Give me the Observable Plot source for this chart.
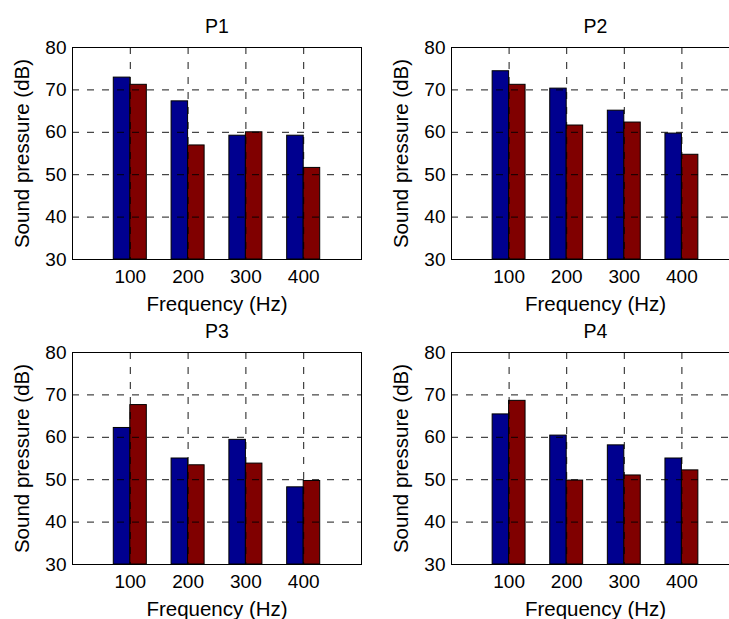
<!DOCTYPE html>
<html>
<head>
<meta charset="utf-8">
<script src="https://cdn.jsdelivr.net/npm/d3@7"></script>
<script src="https://cdn.jsdelivr.net/npm/@observablehq/plot@0.6"></script>
<style>
  html, body { margin: 0; padding: 0; background: #fff; }
  #wrap { position: relative; width: 729px; height: 619px; overflow: hidden; background: #fff; }
  .panel { position: absolute; }
</style>
</head>
<body>
<div id="wrap"></div>
<script>
// ---- data ----
const frequencies = [100, 200, 300, 400];
const xTicks = [100, 200, 300, 400];
const yTicks = [30, 40, 50, 60, 70, 80];
const gridYValues = [40, 50, 60, 70];
const panelTitles = ["P1", "P2", "P3", "P4"];

const p1Series1 = [72.9, 67.3, 59.2, 59.2];
const p1Series2 = [71.2, 56.9, 60.0, 51.6];
const p2Series1 = [74.4, 70.3, 65.1, 59.7];
const p2Series2 = [71.2, 61.6, 62.3, 54.7];
const p3Series1 = [62.2, 55.0, 59.4, 48.2];
const p3Series2 = [67.6, 53.4, 53.8, 49.7];
const p4Series1 = [65.4, 60.4, 58.1, 55.0];
const p4Series2 = [68.6, 49.8, 51.0, 52.2];

const xLabel = "Frequency (Hz)";
const yLabel = "Sound pressure (dB)";

// MATLAB grouped bar: group width 2/3.5 of spacing, two bars
const barW = 100 * (2 / 3.5) / 2;
const baseline = 30;

const FONT = "'Liberation Sans', Arial, Helvetica, sans-serif";
const BLUE = "#00008f";
const RED = "#800000";

function panel(title, s1, s2, left, top, width, marginLeft) {
  const d1 = frequencies.map((f, i) => ({f, v: s1[i]}));
  const d2 = frequencies.map((f, i) => ({f, v: s2[i]}));
  const chart = Plot.plot({
    width: width,
    height: 310,
    marginLeft: marginLeft,
    marginRight: 3,
    marginTop: 47,
    marginBottom: 51,
    style: {fontFamily: FONT, fontSize: "19px", color: "#000", background: "transparent", overflow: "visible"},
    x: {domain: [0, 500]},
    y: {domain: [30, 80]},
    marks: [
      Plot.rectY(d1, {x1: d => d.f - barW, x2: d => d.f, y1: baseline, y2: d => d.v, fill: BLUE, stroke: "#000", strokeWidth: 1}),
      Plot.rectY(d2, {x1: d => d.f, x2: d => d.f + barW, y1: baseline, y2: d => d.v, fill: RED, stroke: "#000", strokeWidth: 1}),
      Plot.gridX(xTicks, {stroke: "#000", strokeOpacity: 0.9, strokeWidth: 1, strokeDasharray: "7,8"}),
      Plot.gridY(gridYValues, {stroke: "#000", strokeOpacity: 0.9, strokeWidth: 1, strokeDasharray: "7,8"}),
      Plot.frame({stroke: "#000", strokeWidth: 1}),
      Plot.axisX({ticks: xTicks, tickSize: 0, tickPadding: 10, tickFormat: d => String(d), label: null, fontSize: 19}),
      Plot.axisY({ticks: yTicks, tickSize: 0, tickPadding: 6, tickFormat: d => String(d), label: null, fontSize: 19}),
      Plot.text([title], {text: d => d, frameAnchor: "top", dy: -20.5, lineAnchor: "middle", textAnchor: "middle", fontSize: 19.5, fill: "#000"}),
      Plot.text([xLabel], {text: d => d, frameAnchor: "bottom", dy: 45, lineAnchor: "middle", textAnchor: "middle", fontSize: 20.5, fill: "#000"}),
      Plot.text([yLabel], {text: d => d, frameAnchor: "left", dx: -50.5, rotate: -90, lineAnchor: "middle", textAnchor: "middle", fontSize: 20.5, fill: "#000"})
    ]
  });
  chart.classList.add("panel");
  chart.style.left = left + "px";
  chart.style.top = top + "px";
  document.getElementById("wrap").appendChild(chart);
}

panel(panelTitles[0], p1Series1, p1Series2, 0, 0, 364, 72);
panel(panelTitles[1], p2Series1, p2Series2, 364, 0, 378, 87);
panel(panelTitles[2], p3Series1, p3Series2, 0, 305, 364, 72);
panel(panelTitles[3], p4Series1, p4Series2, 364, 305, 378, 87);
</script>
</body>
</html>
